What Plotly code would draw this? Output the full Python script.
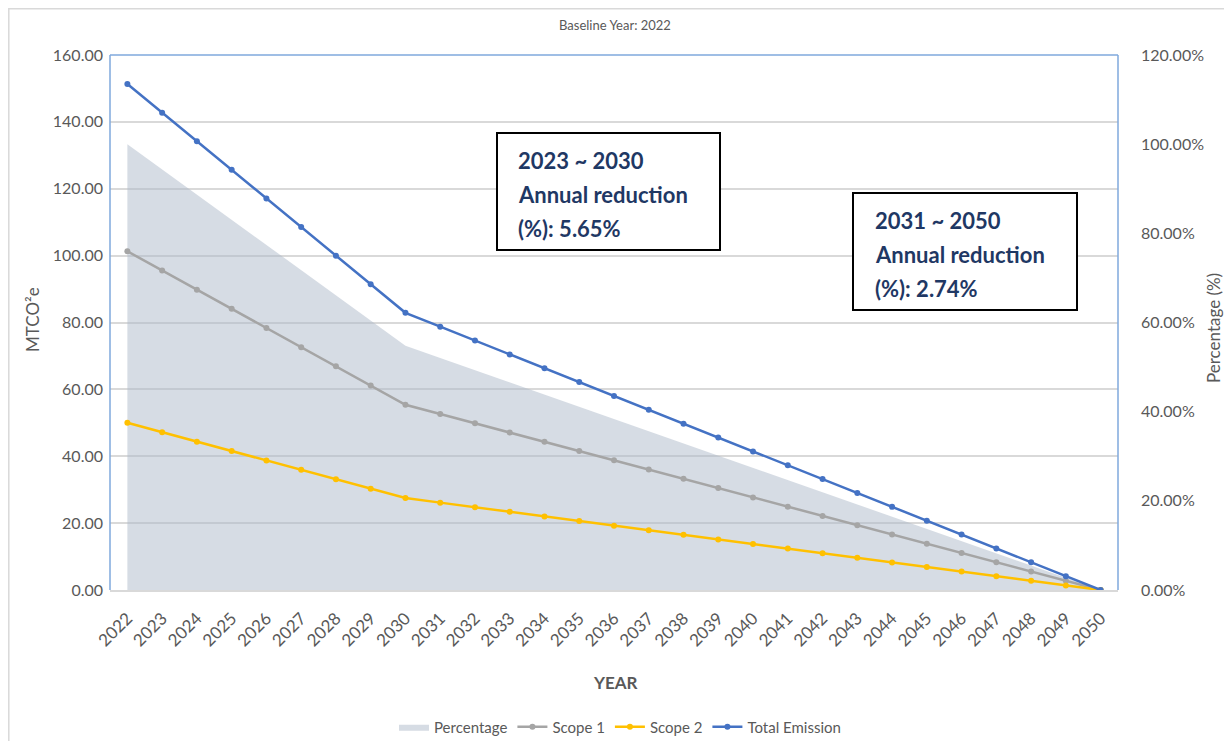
import plotly.graph_objects as go

years = [str(y) for y in [2022, 2023, 2024, 2025, 2026, 2027, 2028, 2029, 2030,
                          2031, 2032, 2033, 2034, 2035, 2036, 2037, 2038, 2039, 2040,
                          2041, 2042, 2043, 2044, 2045, 2046, 2047, 2048, 2049, 2050]]

total_emission = [151.30, 142.75, 134.20, 125.65, 117.10, 108.55, 100.00, 91.45, 82.90,
                  78.75, 74.61, 70.46, 66.32, 62.17, 58.03, 53.88, 49.74, 45.59, 41.45,
                  37.30, 33.16, 29.01, 24.87, 20.72, 16.58, 12.43, 8.29, 4.14, 0.00]

scope1 = [101.30, 95.56, 89.83, 84.09, 78.35, 72.61, 66.88, 61.14, 55.40,
          52.63, 49.86, 47.09, 44.32, 41.55, 38.78, 36.01, 33.24, 30.47, 27.70,
          24.93, 22.16, 19.39, 16.62, 13.85, 11.08, 8.31, 5.54, 2.77, 0.00]

scope2 = [50.00, 47.19, 44.37, 41.56, 38.75, 35.94, 33.12, 30.31, 27.50,
          26.13, 24.75, 23.38, 22.00, 20.63, 19.25, 17.88, 16.50, 15.13, 13.75,
          12.38, 11.00, 9.63, 8.25, 6.88, 5.50, 4.13, 2.75, 1.38, 0.00]

percentage = [1.0, 0.9435, 0.887, 0.8305, 0.774, 0.7175, 0.661, 0.6045, 0.548,
              0.5206, 0.4932, 0.4658, 0.4384, 0.411, 0.3836, 0.3562, 0.3288, 0.3014, 0.274,
              0.2466, 0.2192, 0.1918, 0.1644, 0.137, 0.1096, 0.0822, 0.0548, 0.0274, 0.0]

box1_lines = ["2023 ~ 2030", "Annual reduction", "(%): 5.65%"]
box2_lines = ["2031 ~ 2050", "Annual reduction", "(%): 2.74%"]

FONT = "Lato"
GREY_TXT = "#595959"

# page offset (browser body margin)
OFF = 8
# plot area in page coordinates
PL, PR, PT, PB = 110, 1118, 55, 590
W, H = 1232 - OFF, 749 - 2 * OFF
L, R, T, B = PL - OFF, PR - OFF, PT - OFF, PB - OFF
pw, ph = PR - PL, PB - PT


def px(xp):
    return (xp - PL) / pw


def py(yp):
    return (PB - yp) / ph


fig = go.Figure()

fig.add_trace(go.Scatter(
    x=years, y=percentage, name="Percentage", mode="lines",
    line=dict(width=0, color="rgba(173,185,202,0.5)"),
    fill="tozeroy", fillcolor="rgba(173,185,202,0.5)",
    yaxis="y"))

fig.add_trace(go.Scatter(
    x=years, y=scope1, name="Scope 1", mode="lines+markers",
    line=dict(color="#A5A5A5", width=2.5), marker=dict(size=6, color="#A5A5A5"),
    yaxis="y2"))
fig.add_trace(go.Scatter(
    x=years, y=scope2, name="Scope 2", mode="lines+markers",
    line=dict(color="#FFC000", width=2.5), marker=dict(size=6, color="#FFC000"),
    yaxis="y2"))
fig.add_trace(go.Scatter(
    x=years, y=total_emission, name="Total Emission", mode="lines+markers",
    line=dict(color="#4472C4", width=2.5), marker=dict(size=6, color="#4472C4"),
    yaxis="y2"))

shapes = [
    dict(type="rect", xref="paper", yref="paper", x0=px(OFF + 0.8), x1=px(1300), y0=py(800),
         y1=py(OFF + 0.8), line=dict(color="#D9D9D9", width=1.5), layer="below"),
    dict(type="line", xref="paper", yref="paper", x0=0, x1=0, y0=0, y1=1,
         line=dict(color="#7FA9DC", width=1.5), layer="above"),
    dict(type="line", xref="paper", yref="paper", x0=0, x1=1, y0=1, y1=1,
         line=dict(color="#7FA9DC", width=1.5), layer="above"),
    dict(type="line", xref="paper", yref="paper", x0=1, x1=1, y0=0, y1=1,
         line=dict(color="#7FA9DC", width=1.5), layer="above"),
    dict(type="rect", xref="paper", yref="paper", x0=px(497), x1=px(720), y0=py(250), y1=py(133),
         line=dict(color="black", width=2), fillcolor="white", layer="above"),
    dict(type="rect", xref="paper", yref="paper", x0=px(853), x1=px(1077), y0=py(310), y1=py(193),
         line=dict(color="black", width=2), fillcolor="white", layer="above"),
]


def ann(text, x, y, size, color=GREY_TXT, angle=0, xanchor="center"):
    return dict(text=text, xref="paper", yref="paper", x=px(x), y=py(y),
                xanchor=xanchor, yanchor="middle", textangle=angle, showarrow=False,
                font=dict(family=FONT, size=size, color=color))


annotations = [
    ann("Baseline Year: 2022", 615, 25, 13),
    ann("<b>YEAR</b>", 615, 682, 17),
    ann("MTCO²e", 32, 320, 17, angle=-90),
    ann("Percentage (%)", 1213, 328, 17, angle=-90),
]
for i, t in enumerate(box1_lines):
    annotations.append(ann("<b>%s</b>" % t, 516, 160 + 34 * i, 22, color="#1F3864", xanchor="left"))
for i, t in enumerate(box2_lines):
    annotations.append(ann("<b>%s</b>" % t, 873, 220 + 34 * i, 22, color="#1F3864", xanchor="left"))

fig.update_layout(
    width=W, height=H,
    margin=dict(l=L, r=W - R, t=T, b=H - B, pad=0, autoexpand=False),
    paper_bgcolor="white", plot_bgcolor="white",
    font=dict(family=FONT, color=GREY_TXT),
    showlegend=True,
    legend=dict(orientation="h", x=px(620), xanchor="center", y=py(727), yanchor="middle",
                font=dict(family=FONT, size=15, color=GREY_TXT), traceorder="normal"),
    xaxis=dict(type="category", range=[-0.5, len(years) - 0.5], tickangle=-45,
               showgrid=False, showline=True,
               linecolor="#D9D9D9", linewidth=1.5, ticks="", ticklabelstandoff=10,
               automargin=False,
               tickfont=dict(family=FONT, size=17, color=GREY_TXT), zeroline=False),
    yaxis=dict(side="right", range=[0, 1.2], dtick=0.2, tickformat=".2%", showgrid=False,
               zeroline=False, ticks="", ticklabelstandoff=22, automargin=False,
               tickfont=dict(family=FONT, size=16, color=GREY_TXT)),
    yaxis2=dict(side="left", overlaying="y", range=[0, 160], dtick=20, tickformat=".2f",
                showgrid=True, gridcolor="#D9D9D9", gridwidth=1.5, zeroline=False, ticks="",
                ticklabelstandoff=6, automargin=False,
                tickfont=dict(family=FONT, size=16, color=GREY_TXT)),
    shapes=shapes,
    annotations=annotations,
)

fig.write_html("out.html")
